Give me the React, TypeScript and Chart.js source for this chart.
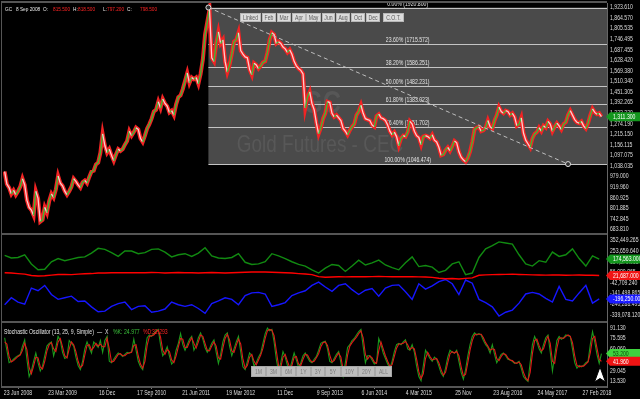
import React, { useEffect, useRef } from 'react';
import { Chart, registerables } from 'chart.js';
Chart.register(...registerables);

const FONT = '"Liberation Sans", Arial, sans-serif';
const SX = 0.79; // horizontal condensing of all chart text

// ---- x axis (sample index of each ~2-week close) ----
const dateTickIndex = [6, 26, 46, 66, 86, 106, 126, 146, 166, 186, 206, 226, 246, 266];
const dateTickLabels = ['23 Jun 2008', '23 Mar 2009', '16 Dec', '17 Sep 2010', '21 Jun 2011', '19 Mar 2012', '11 Dec', '9 Sep 2013', '6 Jun 2014', '4 Mar 2015', '25 Nov', '23 Aug 2016', '24 May 2017', '27 Feb 2018'];

// ---- Gold futures closes ----
const goldClose = [
  1005, 935, 915, 880, 900, 875, 895, 920, 965, 930,
  845, 805, 790, 760, 895, 855, 725, 735, 805, 775,
  840, 880, 860, 905, 980, 940, 925, 895, 875, 895,
  920, 965, 950, 930, 915, 945, 955, 940, 975, 1005,
  1010, 1045, 1055, 1110, 1215, 1150, 1110, 1130, 1095, 1065,
  1100, 1130, 1120, 1130, 1155, 1175, 1230, 1205, 1225, 1250,
  1240, 1190, 1170, 1205, 1245, 1270, 1300, 1340, 1350, 1395,
  1360, 1410, 1385, 1370, 1335, 1345, 1320, 1380, 1420, 1430,
  1465, 1510, 1555, 1500, 1530, 1520, 1530, 1495, 1550, 1630,
  1770, 1840, 1910, 1640, 1620, 1720, 1785, 1720, 1740, 1620,
  1560, 1600, 1660, 1730, 1740, 1780, 1680, 1660, 1645, 1640,
  1575, 1545, 1610, 1600, 1580, 1595, 1615, 1620, 1670, 1740,
  1780, 1770, 1720, 1730, 1720, 1700, 1690, 1670, 1685, 1660,
  1620, 1595, 1580, 1570, 1550, 1360, 1420, 1450, 1385, 1350,
  1275, 1215, 1250, 1300, 1330, 1395, 1390, 1330, 1310, 1320,
  1305, 1290, 1245, 1230, 1210, 1235, 1255, 1270, 1320, 1340,
  1375, 1330, 1300, 1295, 1290, 1265, 1255, 1315, 1325, 1305,
  1300, 1290, 1265, 1230, 1210, 1225, 1200, 1150, 1190, 1205,
  1200, 1225, 1285, 1270, 1230, 1205, 1195, 1155, 1200, 1205,
  1200, 1190, 1210, 1180, 1170, 1140, 1095, 1100, 1125, 1140,
  1120, 1145, 1175, 1165, 1115, 1085, 1070, 1060, 1080, 1115,
  1170, 1240, 1250, 1255, 1230, 1235, 1250, 1290, 1255, 1245,
  1290, 1320, 1365, 1340, 1330, 1345, 1340, 1320, 1330, 1310,
  1260, 1270, 1305, 1220, 1180, 1160, 1140, 1190, 1215, 1225,
  1250, 1230, 1260, 1250, 1285, 1270, 1230, 1255, 1275, 1260,
  1240, 1270, 1280, 1320, 1345, 1320, 1295, 1280, 1275, 1285,
  1260, 1245, 1275, 1320, 1355, 1335, 1325, 1330, 1311.3,
];

// ---- C.O.T. net positions (thousands of contracts), one value every 3 samples ----
const cotStep = 3;
const cotNonCommercial = [
  210, 185, 190, 215, 130, 75, 80, 150, 180, 160,
  175, 190, 195, 230, 275, 265, 235, 200, 250, 250,
  225, 235, 265, 270, 240, 195, 215, 225, 200, 230,
  280, 205, 185, 180, 190, 225, 145, 125, 130, 150,
  225, 205, 180, 150, 125, 110, 75, 45, 90, 125,
  115, 60, 110, 165, 120, 140, 165, 120, 95, 75,
  140, 195, 105, 115, 100, 50, 70, 130, 150, 30,
  45, 190, 270, 300, 335, 325, 315, 215, 130, 110,
  160, 145, 240, 200, 215, 270, 180, 110, 205, 174.563,
];
const cotSmallTraders = [
  48, 45, 40, 35, 22, 18, 20, 26, 32, 33,
  30, 35, 38, 40, 45, 46, 48, 47, 49, 48,
  47, 48, 50, 49, 46, 48, 50, 48, 47, 46,
  48, 50, 47, 45, 48, 50, 52, 55, 56, 54,
  52, 50, 48, 45, 40, 36, 30, 12, 6, 8,
  10, 9, 11, 12, 10, 12, 14, 12, 10, 11,
  12, 10, 9, 8, 5, -4, -8, -6, -10, -5,
  0, 24, 28, 30, 32, 33, 35, 32, 30, 28,
  27, 26, 28, 27, 25, 26, 27, 25, 24, 21.687,
];
const cotCommercial = [
  -250, -185, -225, -245, -95, -120, -70, -155, -200, -185,
  -170, -220, -215, -270, -315, -310, -265, -240, -225, -295,
  -265, -260, -320, -310, -290, -225, -250, -265, -250, -285,
  -330, -240, -215, -185, -200, -250, -165, -140, -135, -150,
  -265, -250, -230, -165, -140, -120, -70, -40, -85, -125,
  -70, -55, -110, -155, -115, -100, -170, -95, -70, -65,
  -130, -200, -55, -105, -75, -35, -15, -55, -155, -20,
  -50, -200, -230, -270, -355, -320, -300, -235, -150, -135,
  -150, -190, -225, -80, -200, -215, -140, -70, -235, -196.25,
];

// ---- Stochastic oscillator ----
const stochK = [
  76, 58, 40, 42, 45, 48, 50, 52, 64, 73,
  45, 20, 28, 42, 54, 40, 28, 35, 50, 64,
  68, 70, 50, 62, 78, 72, 55, 46, 48, 72,
  68, 64, 48, 36, 30, 42, 60, 70, 62, 54,
  70, 66, 62, 72, 55, 72, 78, 42, 40, 45,
  50, 54, 52, 49, 52, 55, 54, 56, 74, 58,
  42, 34, 30, 55, 76, 80, 78, 82, 86, 88,
  66, 50, 55, 63, 50, 38, 42, 58, 68, 82,
  66, 58, 66, 74, 78, 58, 65, 76, 83, 74,
  62, 55, 60, 68, 73, 55, 39, 52, 70, 80,
  83, 64, 50, 60, 70, 78, 56, 34, 30, 42,
  54, 50, 35, 40, 48, 54, 68, 82, 90, 86,
  88, 70, 45, 27, 40, 56, 48, 36, 30, 42,
  54, 44, 33, 40, 50, 54, 48, 42, 40, 45,
  49, 58, 68, 70, 71, 60, 42, 40, 46, 52,
  56, 40, 21, 40, 62, 66, 72, 75, 80, 85,
  88, 64, 40, 50, 50, 44, 38, 40, 75, 66,
  54, 46, 38, 32, 42, 56, 66, 68, 66, 70,
  73, 60, 58, 66, 55, 35, 20, 14, 35, 58,
  52, 46, 42, 48, 45, 35, 25, 20, 32, 48,
  58, 55, 54, 58, 42, 26, 16, 30, 50, 66,
  78, 83, 80, 82, 80, 72, 66, 62, 54, 66,
  52, 40, 46, 52, 54, 50, 45, 44, 42, 39,
  40, 42, 32, 20, 16, 13, 40, 66, 78, 70,
  60, 54, 66, 76, 80, 56, 28, 50, 72, 78,
  74, 76, 80, 79, 78, 60, 40, 32, 36, 34,
  36, 40, 42, 66, 85, 70, 52, 39, 53.2,
];
const stochD = [
  70, 67, 49, 41, 43, 46, 49, 51, 58, 68,
  59, 33, 24, 35, 48, 47, 34, 31, 42, 57,
  66, 69, 60, 56, 70, 75, 63, 50, 47, 60,
  70, 66, 56, 42, 33, 36, 51, 65, 66, 58,
  62, 68, 64, 67, 63, 63, 75, 60, 41, 42,
  47, 52, 53, 50, 50, 53, 54, 55, 65, 66,
  50, 38, 32, 42, 65, 78, 79, 80, 84, 87,
  77, 58, 52, 59, 56, 44, 40, 50, 63, 75,
  74, 62, 62, 70, 76, 68, 61, 70, 80, 78,
  68, 58, 57, 64, 70, 64, 47, 45, 61, 75,
  81, 73, 57, 55, 65, 74, 67, 45, 32, 36,
  48, 52, 42, 37, 44, 51, 61, 75, 86, 88,
  87, 79, 57, 36, 33, 48, 52, 42, 33, 36,
  48, 49, 38, 36, 45, 52, 51, 45, 41, 42,
  47, 53, 63, 69, 70, 65, 51, 41, 43, 49,
  54, 48, 30, 30, 51, 64, 69, 73, 77, 82,
  86, 76, 52, 45, 50, 47, 41, 39, 57, 70,
  60, 50, 42, 35, 37, 49, 61, 67, 67, 68,
  71, 66, 59, 62, 60, 45, 27, 17, 24, 46,
  55, 49, 44, 45, 46, 40, 30, 22, 26, 40,
  53, 56, 54, 56, 50, 34, 21, 23, 40, 58,
  72, 80, 81, 81, 81, 76, 69, 64, 58, 60,
  59, 46, 43, 49, 53, 52, 47, 44, 43, 40,
  39, 41, 37, 26, 18, 14, 26, 53, 72, 74,
  65, 57, 60, 71, 78, 68, 42, 39, 61, 75,
  76, 75, 78, 80, 78, 69, 50, 36, 34, 35,
  35, 38, 41, 54, 75, 78, 61, 45, 41.96,
];

// ---- axis tick values ----
const priceTicks = [1923.61, 1864.57, 1805.535, 1746.495, 1687.455, 1628.42, 1569.38, 1510.34, 1451.305, 1392.265, 1333.23, 1274.19, 1215.15, 1156.115, 1097.075, 1038.035, 979.0, 919.96, 860.925, 801.885, 742.845, 683.81];
const cotTicks = [352449.265, 253659.64, 154870.015, 56080.865, -42709.24, -141498.865, -240288.495, -339078.12];
const stochTicks = [91.13, 75.595, 60.06, 44.525, 29.045, 13.53];

// ---- Fibonacci retracement ----
const fibLevels = [0, 23.6, 38.2, 50, 61.8, 76.4, 100];
const fibPrices = [1920.8, 1715.572, 1586.251, 1482.231, 1383.023, 1251.702, 1046.474];
const fibAnchorIndex = [91.5, 253];

const topButtons: [string, number, number][] = [['Linked', 240, 261], ['Feb', 262, 276], ['Mar', 277, 291], ['Apr', 292, 306], ['May', 306, 321], ['Jun', 322, 335], ['Aug', 336, 350], ['Oct', 351, 365], ['Dec', 366, 380], ['C.O.T.', 383, 404]];
const rangeButtons: [string, number, number][] = [['1M', 251, 266], ['3M', 266, 281], ['6M', 281, 296], ['1Y', 296, 311], ['3Y', 311, 325], ['5Y', 325, 341], ['10Y', 341, 358], ['20Y', 358, 375], ['ALL', 375, 392]];

const fmt = (v: number, d = 3) => v.toLocaleString('en-US', { minimumFractionDigits: d, maximumFractionDigits: d });

function ntext(ctx: CanvasRenderingContext2D, t: string, x: number, y: number, size: number, color: string,
  align: CanvasTextAlign = 'left', baseline: CanvasTextBaseline = 'middle', weight = '') {
  ctx.save();
  ctx.font = `${weight} ${size}px ${FONT}`;
  ctx.fillStyle = color;
  ctx.textAlign = align;
  ctx.textBaseline = baseline;
  ctx.translate(x, y);
  ctx.scale(SX, 1);
  ctx.fillText(t, 0, 0);
  ctx.restore();
}

function drawTag(ctx: CanvasRenderingContext2D, x0: number, y: number, text: string, bg: string, fg: string) {
  ctx.save();
  ctx.fillStyle = bg;
  ctx.beginPath();
  ctx.moveTo(x0 - 1, y);
  ctx.lineTo(x0 + 3, y - 4.5);
  ctx.lineTo(640, y - 4.5);
  ctx.lineTo(640, y + 4.5);
  ctx.lineTo(x0 + 3, y + 4.5);
  ctx.closePath();
  ctx.fill();
  ctx.restore();
  ntext(ctx, text, x0 + 6, y + 0.5, 6.5, fg);
}

function drawButtons(ctx: CanvasRenderingContext2D, list: [string, number, number][], y0: number, y1: number, bg: string, fg: string, border: string) {
  for (const [t, a, b] of list) {
    ctx.save();
    ctx.fillStyle = bg;
    ctx.fillRect(a, y0, b - a, y1 - y0);
    ctx.strokeStyle = border;
    ctx.lineWidth = 1;
    ctx.strokeRect(a + 0.5, y0 + 0.5, b - a - 1, y1 - y0 - 1);
    ctx.restore();
    ntext(ctx, t, (a + b) / 2, (y0 + y1) / 2 + 0.5, 6.5, fg, 'center');
  }
}

function drawPieces(ctx: CanvasRenderingContext2D, y: number, size: number, pieces: [string, number, string][]) {
  for (const [t, x, c] of pieces) ntext(ctx, t, x, y, size, c);
}

const overlayPlugin = {
  id: 'overlay',
  beforeDatasetsDraw(chart: any) {
    const { ctx, chartArea } = chart;
    const xs = chart.scales.x;
    const yP = chart.scales.yPrice;
    const left = xs.getPixelForValue(fibAnchorIndex[0]);
    const right = chartArea.right;
    const top = yP.getPixelForValue(fibPrices[0]);
    const bottom = yP.getPixelForValue(fibPrices[fibPrices.length - 1]);
    ctx.save();
    ctx.fillStyle = '#4a4a4a';
    ctx.fillRect(left, top, right - left, bottom - top);
    ctx.restore();
    ntext(ctx, 'GC', 322, 104, 32, '#575757', 'center', 'middle', 'bold');
    ntext(ctx, 'Gold Futures - CEC', 320, 145, 24, '#585858', 'center', 'middle');
    fibPrices.forEach((p, j) => {
      const y = Math.round(yP.getPixelForValue(p)) + 0.5;
      ctx.save();
      ctx.strokeStyle = '#c4c4c4';
      ctx.lineWidth = 1;
      ctx.beginPath();
      ctx.moveTo(left, y);
      ctx.lineTo(right, y);
      ctx.stroke();
      ctx.restore();
      ntext(ctx, `${fibLevels[j].toFixed(2)}% (${fibPrices[j].toFixed(3)})`, (left + right) / 2, y - 1, 6.5, '#e4e4e4', 'center', 'bottom');
    });
  },
  afterDatasetsDraw(chart: any) {
    const { ctx } = chart;
    const xs = chart.scales.x;
    const yP = chart.scales.yPrice;
    const x1 = xs.getPixelForValue(fibAnchorIndex[0]);
    const y1 = yP.getPixelForValue(fibPrices[0]);
    const x2 = xs.getPixelForValue(fibAnchorIndex[1]);
    const y2 = yP.getPixelForValue(fibPrices[fibPrices.length - 1]);
    ctx.save();
    ctx.strokeStyle = '#bdbdbd';
    ctx.lineWidth = 1;
    ctx.setLineDash([4, 3]);
    ctx.beginPath();
    ctx.moveTo(x1, y1);
    ctx.lineTo(x2, y2);
    ctx.stroke();
    ctx.setLineDash([]);
    for (const [cx, cy] of [[x1, y1], [x2, y2]]) {
      ctx.fillStyle = '#303030';
      ctx.strokeStyle = '#dddddd';
      ctx.beginPath();
      ctx.arc(cx, cy, 2.5, 0, Math.PI * 2);
      ctx.fill();
      ctx.stroke();
    }
    ctx.restore();
    drawButtons(ctx, topButtons, 13, 22, '#dcdcdc', '#5a5a5a', '#b8b8b8');
    drawButtons(ctx, rangeButtons, 366, 377, '#bdbdbd', '#7c7c7c', '#a8a8a8');
  },
  afterDraw(chart: any) {
    const { ctx, chartArea } = chart;
    const xs = chart.scales.x;
    const yP = chart.scales.yPrice;
    const yC = chart.scales.yCot;
    const yS = chart.scales.yStoch;
    ctx.save();
    ctx.strokeStyle = '#555555';
    ctx.lineWidth = 2;
    for (const y of [chartArea.top - 1, yP.bottom, yC.bottom, yS.bottom]) {
      ctx.beginPath();
      ctx.moveTo(chartArea.left - 2, y);
      ctx.lineTo(chartArea.right, y);
      ctx.stroke();
    }
    ctx.lineWidth = 1;
    ctx.beginPath();
    ctx.moveTo(chartArea.left - 1.5, chartArea.top - 1);
    ctx.lineTo(chartArea.left - 1.5, chartArea.bottom);
    ctx.stroke();
    // cursor arrow
    ctx.fillStyle = '#ffffff';
    ctx.strokeStyle = '#000000';
    ctx.beginPath();
    ctx.moveTo(600, 367);
    ctx.lineTo(605.5, 382);
    ctx.lineTo(600, 378.5);
    ctx.lineTo(594.5, 382);
    ctx.closePath();
    ctx.fill();
    ctx.stroke();
    ctx.restore();

    // axis labels (condensed text placed through the scales)
    const lx = chartArea.right + 3;
    priceTicks.forEach((v) => ntext(ctx, fmt(v), lx, yP.getPixelForValue(v) + 0.5, 6.5, '#dedede'));
    cotTicks.forEach((v) => ntext(ctx, fmt(v), lx, yC.getPixelForValue(v) + 0.5, 6.5, '#dedede'));
    stochTicks.forEach((v) => ntext(ctx, fmt(v), lx, yS.getPixelForValue(v) + 0.5, 6.5, '#dedede'));
    dateTickIndex.forEach((v, j) => ntext(ctx, dateTickLabels[j], xs.getPixelForValue(v), chartArea.bottom + 6.5, 6.5, '#dedede', 'center'));

    const xr = chartArea.right;
    const last = (a: number[]) => a[a.length - 1];
    drawTag(ctx, xr, yP.getPixelForValue(last(goldClose)), fmt(last(goldClose)), '#14961e', '#ffffff');
    drawTag(ctx, xr, yC.getPixelForValue(last(cotNonCommercial) * 1000), fmt(last(cotNonCommercial) * 1000), '#14961e', '#ffffff');
    drawTag(ctx, xr, yC.getPixelForValue(last(cotSmallTraders) * 1000), fmt(last(cotSmallTraders) * 1000), '#f01414', '#ffffff');
    drawTag(ctx, xr, yC.getPixelForValue(last(cotCommercial) * 1000), fmt(last(cotCommercial) * 1000), '#1a1aff', '#ffffff');
    drawTag(ctx, xr, yS.getPixelForValue(last(stochK)), fmt(last(stochK)), '#3ed43e', '#0b4a0b');
    drawTag(ctx, xr, yS.getPixelForValue(last(stochD)), fmt(last(stochD)), '#f01414', '#ffffff');

    drawPieces(ctx, 9, 6, [
      ['GC', 5, '#e6e6e6'], ['8 Sep 2008', 16, '#e6e6e6'], ['O:', 43, '#e6e6e6'], ['815.500', 53, '#ff2424'],
      ['H:', 73, '#e6e6e6'], ['818.500', 78, '#ff2424'], ['L:', 103, '#e6e6e6'], ['797.200', 107, '#ff2424'],
      ['C:', 127, '#e6e6e6'], ['798.500', 140, '#ff2424'],
    ]);
    drawPieces(ctx, yS.top + 10, 6.5, [
      ['Stochastic Oscillator (13, 25, 9, Simple)', 4, '#e6e6e6'], ['\u2014', 97, '#e6e6e6'], ['X', 105, '#e6e6e6'],
      ['%K:', 113, '#3cc43c'], ['24.977', 124, '#3cc43c'], ['%D:', 143, '#ff2424'], ['32.293', 152, '#ff2424'],
    ]);
  },
};

function yAxis(weight: number, min: number, max: number, ticks: number[]) {
  return {
    type: 'linear',
    position: 'right',
    stack: 'panes',
    stackWeight: weight,
    min,
    max,
    grid: { display: false, drawTicks: false },
    border: { display: true, color: '#666666', width: 1 },
    ticks: { display: false },
    afterBuildTicks: (s: any) => { s.ticks = ticks.map((v) => ({ value: v })); },
    afterFit: (s: any) => { s.width = 33; },
  };
}

export default function App() {
  const ref = useRef<HTMLCanvasElement | null>(null);
  useEffect(() => {
    if (!ref.current) return;
    const priceData = goldClose.map((v, i) => ({ x: i, y: v }));
    const cot = (arr: number[]) => arr.map((v, k) => ({ x: k * cotStep, y: v * 1000 }));
    const stoch = (arr: number[]) => arr.map((v, i) => ({ x: i, y: v }));
    const line = { pointRadius: 0, fill: false, tension: 0 };
    const chart = new Chart(ref.current, {
      type: 'line',
      data: {
        datasets: [
          {
            ...line, data: priceData, yAxisID: 'yPrice', borderWidth: 1.3, order: 1, borderColor: '#f0f0f0',
            segment: { borderColor: (c: any) => (c.p1.parsed.y >= c.p0.parsed.y ? '#35c035' : 'rgba(255,235,235,0.85)') },
          },
          { ...line, data: priceData, yAxisID: 'yPrice', borderWidth: 4, order: 2, borderColor: '#f22424' },
          { ...line, data: cot(cotNonCommercial), yAxisID: 'yCot', borderColor: '#118a11', borderWidth: 1.4, order: 3 },
          { ...line, data: cot(cotSmallTraders), yAxisID: 'yCot', borderColor: '#ff0000', borderWidth: 1.4, order: 4 },
          { ...line, data: cot(cotCommercial), yAxisID: 'yCot', borderColor: '#1616ff', borderWidth: 1.4, order: 5 },
          { ...line, data: stoch(stochD), yAxisID: 'yStoch', borderColor: '#e01818', borderWidth: 1.1, order: 6 },
          { ...line, data: stoch(stochK), yAxisID: 'yStoch', borderColor: '#1c9a1c', borderWidth: 1.1, order: 7 },
        ],
      },
      options: {
        animation: false,
        responsive: false,
        maintainAspectRatio: false,
        events: [],
        layout: { padding: { left: 3, top: 3, right: 0, bottom: 0 } },
        plugins: { legend: { display: false }, tooltip: { enabled: false } },
        scales: {
          x: {
            type: 'linear',
            position: 'bottom',
            min: -0.74,
            max: 270.5,
            grid: { display: true, drawOnChartArea: false, drawTicks: true, tickLength: 2, color: '#777777' },
            border: { display: false },
            ticks: { display: false },
            afterBuildTicks: (s: any) => { s.ticks = dateTickIndex.map((v) => ({ value: v })); },
            afterFit: (s: any) => { s.height = 12; },
          },
          yPrice: yAxis(231, 656, 1946, priceTicks),
          yCot: yAxis(88, -410700, 408300, cotTicks),
          yStoch: yAxis(65, 4.86, 98.8, stochTicks),
        } as any,
      },
      plugins: [overlayPlugin],
    } as any);
    return () => chart.destroy();
  }, []);
  return (
    <div style={{ position: 'absolute', left: 0, top: 0, width: 640, height: 399, background: '#000' }}>
      <canvas ref={ref} width={640} height={399} style={{ display: 'block', width: 640, height: 399 }} />
    </div>
  );
}
